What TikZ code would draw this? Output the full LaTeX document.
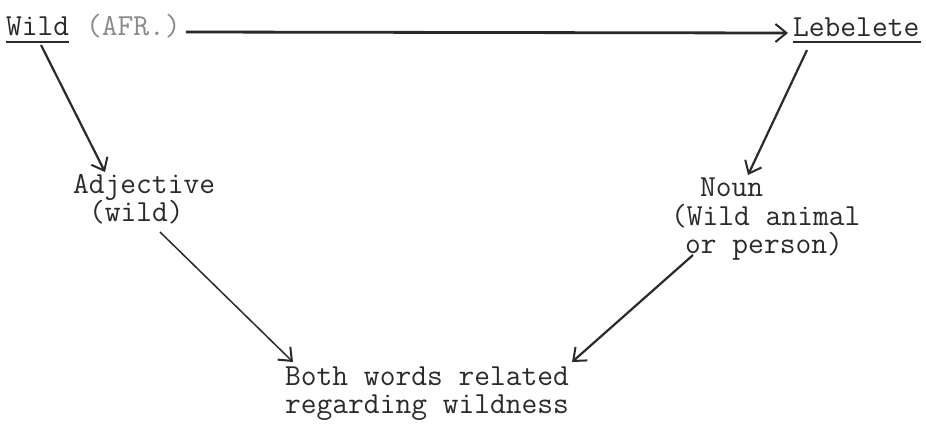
\documentclass[tikz,border=0pt]{standalone}
\usepackage{fontspec}
\usetikzlibrary{arrows.meta}
\definecolor{ink}{HTML}{2A2A2A}
\definecolor{faint}{HTML}{8A8A8A}
\tikzset{
  lbl/.style={anchor=base west, inner sep=0pt, text=ink, font=\ttfamily\fontsize{30.6}{34}\selectfont},
  conn/.style={draw=ink, line width=2.2pt, -{Straight Barb[length=11pt,width=18pt,line width=2pt]}},
  thinconn/.style={conn, line width=1.5pt},
  uline/.style={draw=ink, line width=1.6pt}
}
\begin{document}
\begin{tikzpicture}[x=1pt,y=-1pt]
\useasboundingbox[fill=white] (0,0) rectangle (926,424);
\node[lbl] (wild) at (6,35) {Wild};
\node[lbl, text=faint] (afr) at (86,35) {(AFR.)};
\node[lbl] (lebelete) at (793,36) {Lebelete};
\node[lbl] (adj1) at (73,193) {Adjective};
\node[lbl] (adj2) at (89,221) {(wild)};
\node[lbl] (noun1) at (700,196) {Noun};
\node[lbl] (noun2) at (671,225) {(Wild animal};
\node[lbl] (noun3) at (685,253) {or person)};
\node[lbl] (both1) at (285,385) {Both words related};
\node[lbl] (both2) at (285,413) {regarding wildness};
\draw[uline] ([yshift=-7pt]wild.base west) -- ([yshift=-7pt]wild.base east);
\draw[uline] ([yshift=-6pt]lebelete.base west) -- ([yshift=-6pt,xshift=2pt]lebelete.base east);
\draw[conn, line width=2.8pt] ([xshift=5pt,yshift=3pt]afr.base east) -- ([xshift=-5pt,yshift=3pt]lebelete.base west);
\draw[conn] ([xshift=35pt,yshift=-10pt]wild.base west) -- ([xshift=32pt,yshift=21pt]adj1.base west);
\draw[conn] ([xshift=14pt,yshift=-14pt]lebelete.base west) -- ([xshift=48pt,yshift=21pt]noun1.base west);
\draw[thinconn] ([xshift=71pt,yshift=-11pt]adj2.base west) -- ([xshift=8pt,yshift=23pt]both1.base west);
\draw[conn] ([xshift=8pt,yshift=-2pt]noun3.base west) -- ([xshift=3pt,yshift=23pt]both1.base east);
\end{tikzpicture}
\end{document}
